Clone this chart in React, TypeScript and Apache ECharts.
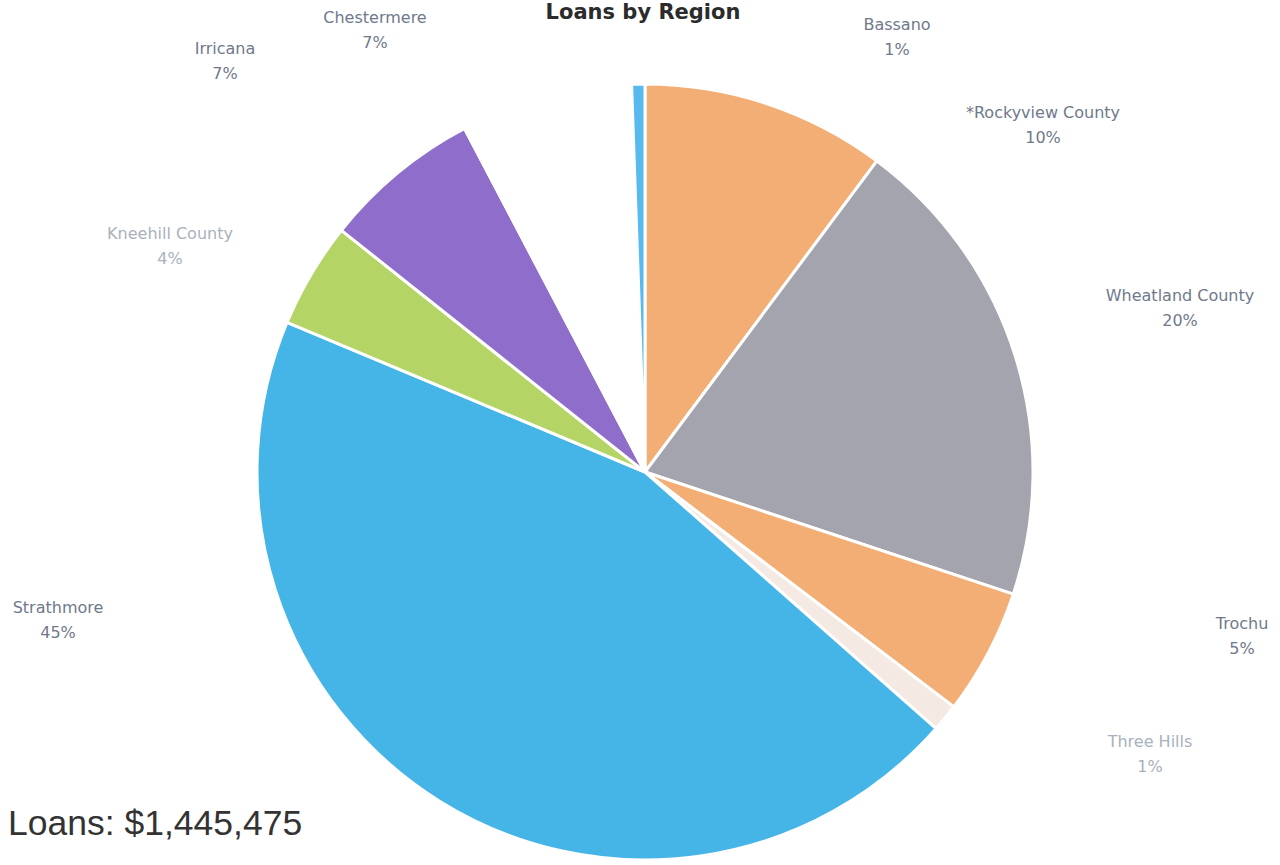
import React, { useEffect, useRef } from "react";
import * as echarts from "echarts";

const regions = [
  "*Rockyview County",
  "Wheatland County",
  "Trochu",
  "Three Hills",
  "Strathmore",
  "Kneehill County",
  "Irricana",
  "Chestermere",
  "Bassano",
];
const loanAmounts = [147400, 287650, 75900, 16600, 647625, 63600, 95400, 103350, 7950];
const totalText = "Loans: $1,445,475";
const titleText = "Loans by Region";

const sliceColors = [
  "#F2AE74",
  "#A4A4AE",
  "#F2AE74",
  "#F4EAE3",
  "#45B4E7",
  "#B4D466",
  "#8F6ECB",
  "#FFFFFF",
  "#57B9EE",
];
const labelColors = [
  "#6F798B",
  "#6F798B",
  "#6F798B",
  "#A9B1BD",
  "#6F798B",
  "#A9B1BD",
  "#6F798B",
  "#6F798B",
  "#6F798B",
];
const labelPositions: [number, number][] = [
  [1043, 125],
  [1180, 308],
  [1242, 636],
  [1150, 754],
  [58, 620],
  [170, 246],
  [225, 61],
  [375, 30],
  [897, 37],
];

export default function App() {
  const ref = useRef<HTMLDivElement>(null);
  useEffect(() => {
    if (!ref.current) return;
    const chart = echarts.init(ref.current, undefined, { renderer: "svg" });
    const data = regions.map((name, i) => ({
      name,
      value: loanAmounts[i],
      itemStyle: { color: sliceColors[i] },
      label: { color: labelColors[i] },
    }));
    chart.setOption({
      animation: false,
      backgroundColor: "#FFFFFF",
      title: {
        text: titleText,
        left: 638,
        textAlign: "center",
        top: -4,
        textStyle: {
          fontFamily: "DejaVu Sans",
          fontWeight: "bold",
          fontSize: 21,
          color: "#2B2B2B",
        },
      },
      graphic: [
        {
          type: "text",
          left: 8,
          top: 805,
          style: {
            text: totalText,
            font: '35.5px "Liberation Sans"',
            fill: "#333333",
          },
        },
      ],
      series: [
        {
          type: "pie",
          center: [645, 472],
          radius: [0, 388],
          startAngle: 90,
          clockwise: true,
          avoidLabelOverlap: false,
          itemStyle: { borderColor: "#FFFFFF", borderWidth: 3 },
          label: {
            show: true,
            position: "outside",
            fontFamily: "DejaVu Sans",
            fontSize: 16,
            lineHeight: 25,
            align: "center",
            formatter: (p: any) => `${p.name}\n${Math.round(p.percent)}%`,
          },
          labelLine: { show: false },
          labelLayout: (params: any) => {
            const pos = labelPositions[params.dataIndex];
            return { x: pos[0], y: pos[1], align: "center", verticalAlign: "middle" };
          },
          emphasis: { disabled: true },
          data,
        },
      ],
    });
    return () => chart.dispose();
  }, []);
  return (
    <div
      ref={ref}
      style={{ position: "absolute", left: 0, top: 0, width: 1280, height: 865 }}
    />
  );
}
